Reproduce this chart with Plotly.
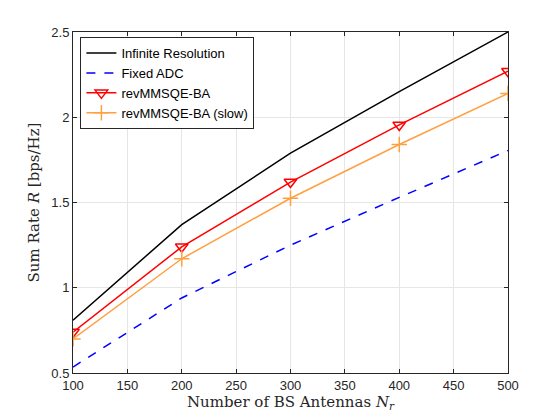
import plotly.graph_objects as go

antennas = [100, 200, 300, 400, 500]
infinite_res = [0.81, 1.37, 1.79, 2.15, 2.50]
fixed_adc = [0.535, 0.94, 1.25, 1.53, 1.805]
rev_ba = [0.74, 1.24, 1.62, 1.955, 2.27]
rev_ba_slow = [0.70, 1.17, 1.525, 1.84, 2.14]

x_ticks = [100, 150, 200, 250, 300, 350, 400, 450, 500]
y_ticks = [0.5, 1, 1.5, 2, 2.5]
y_tick_labels = ["0.5", "1", "1.5", "2", "2.5"]

fig = go.Figure()
fig.add_trace(go.Scatter(x=antennas, y=infinite_res, mode="lines", name="Infinite Resolution",
                         line=dict(color="black", width=1.5)))
fig.add_trace(go.Scatter(x=antennas, y=fixed_adc, mode="lines", name="Fixed ADC",
                         line=dict(color="#0000ff", width=1.5, dash="dash")))
fig.add_trace(go.Scatter(x=antennas, y=rev_ba, mode="lines+markers", name="revMMSQE-BA",
                         line=dict(color="#ff0000", width=1.5),
                         marker=dict(symbol="triangle-down-open", size=11, color="#ff0000",
                                     line=dict(width=1.5, color="#ff0000"))))
fig.add_trace(go.Scatter(x=antennas, y=rev_ba_slow, mode="lines+markers", name="revMMSQE-BA (slow)",
                         line=dict(color="#ffa040", width=1.5),
                         marker=dict(symbol="cross-thin-open", size=11, color="#ffa040",
                                     line=dict(width=1.5, color="#ffa040"))))

axis_common = dict(showline=True, linecolor="#262626", linewidth=1, mirror="ticks",
                   ticks="inside", ticklen=4, tickcolor="#262626",
                   showgrid=True, gridcolor="#e6e6e6", gridwidth=1, zeroline=False,
                   tickfont=dict(family="Liberation Sans, Arial", size=13, color="#262626"))

fig.update_xaxes(range=[100, 500], tickvals=x_ticks,
                 title=dict(text="Number of BS Antennas <i>N<sub>r</sub></i>", standoff=3,
                            font=dict(family="DejaVu Serif", size=15, color="#262626")),
                 **axis_common)
fig.update_yaxes(range=[0.5, 2.5], tickvals=y_ticks, ticktext=y_tick_labels,
                 title=dict(text="Sum Rate <i>R</i> [bps/Hz]", standoff=8,
                            font=dict(family="DejaVu Serif", size=15, color="#262626")),
                 **axis_common)

fig.update_layout(
    width=560, height=420,
    margin=dict(l=73, r=52, t=32, b=47),
    plot_bgcolor="white", paper_bgcolor="white",
    legend=dict(x=0.017, y=0.985, xanchor="left", yanchor="top",
                bgcolor="white", bordercolor="#262626", borderwidth=1,
                font=dict(family="Liberation Sans, Arial", size=13, color="#000000"),
                tracegroupgap=0, itemwidth=30),
    showlegend=True,
)

fig.write_html("out.html")
